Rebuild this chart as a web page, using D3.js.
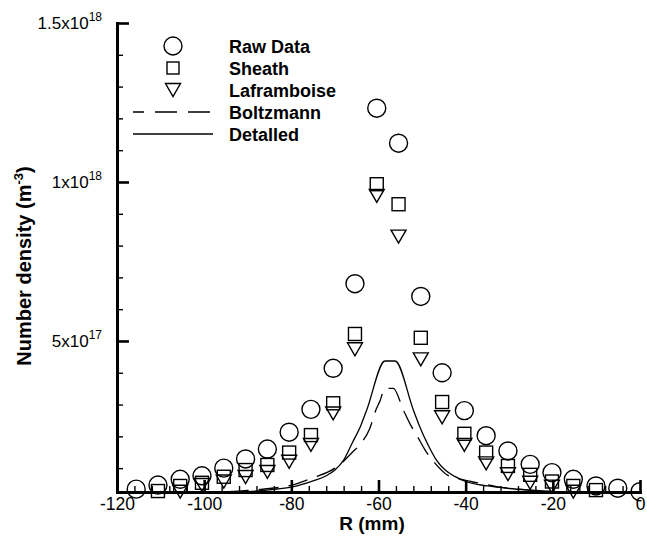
<!DOCTYPE html>
<html>
<head>
<meta charset="utf-8">
<script src="https://cdn.jsdelivr.net/npm/d3@7"></script>
<style>
  html, body { margin: 0; padding: 0; background: #fff; }
  svg { display: block; font-family: "Liberation Sans", Arial, Helvetica, sans-serif; }
</style>
</head>
<body>
<svg id="chart" width="647" height="537"></svg>
<script>
// ---------------- data ----------------
const E = 1e18;
// x positions of the measurement columns (mm)
const rawX = [-115.6,-110.6,-105.5,-100.5,-95.5,-90.5,-85.5,-80.5,-75.5,-70.4,-65.4,-60.4,-55.4,-50.3,-45.4,-40.3,-35.3,-30.3,-25.2,-20.2,-15.3,-10.1,-5.1,0];
const rawData = [0.034,0.047,0.065,0.076,0.10,0.129,0.16,0.213,0.285,0.414,0.68,1.232,1.122,0.64,0.40,0.281,0.202,0.154,0.112,0.086,0.065,0.044,0.037,0.026];

const sheathX = rawX.slice(1, 22);
const sheath = [0.028,0.044,0.054,0.073,0.094,0.11,0.149,0.204,0.304,0.522,0.993,0.93,0.51,0.308,0.208,0.149,0.107,0.079,0.058,0.044,0.031];

const lafX = rawX.slice(2, 21);
const laframboise = [0.026,0.047,0.058,0.072,0.088,0.12,0.173,0.272,0.474,0.956,0.828,0.442,0.26,0.173,0.115,0.081,0.054,0.042,0.026];

const boltzX = [-115,-100,-90,-85,-80,-75,-70,-68,-66,-64,-62,-60.6,-59.7,-58.5,-56.6,-54.3,-52.8,-51,-49.3,-47,-44.3,-41.5,-38.8,-35,-32.9,-28.3,-25,-20,-10,0];
const boltzmann = [0.015,0.022,0.03,0.036,0.046,0.07,0.1,0.122,0.15,0.178,0.225,0.283,0.31,0.351,0.351,0.283,0.24,0.198,0.157,0.115,0.079,0.066,0.058,0.048,0.042,0.034,0.03,0.026,0.021,0.018];

const detX = [-115,-105,-95,-90,-85,-80,-75,-72,-70,-68,-66,-64,-62.7,-58.5,-56.2,-52,-50.7,-48.7,-46.7,-44.7,-42.5,-40,-35,-30,-25,-20,-10,0];
const detailed = [0.012,0.016,0.022,0.026,0.032,0.04,0.06,0.076,0.094,0.125,0.18,0.236,0.283,0.437,0.437,0.283,0.236,0.175,0.125,0.094,0.074,0.058,0.044,0.036,0.031,0.027,0.021,0.017];

const xMajor = [-120,-100,-80,-60,-40,-20,0];
const xTickLabels = ["-120","-100","-80","-60","-40","-20","0"];
const yMajor = [0.5e18, 1e18, 1.5e18];
const yTickMantissa = ["5x10","1x10","1.5x10"];
const yTickExponent = ["17","18","18"];
const legendLabels = ["Raw Data","Sheath","Laframboise","Boltzmann","Detalled"];

// ---------------- layout ----------------
const svg = d3.select("#chart");
const x = d3.scaleLinear().domain([-120, 0]).range([117, 640]);
const y = d3.scaleLinear().domain([0.025e18, 1.5e18]).range([492, 23]);

const xMinor = d3.range(-116, 0, 4).filter(v => !xMajor.includes(v));
const yMinor = d3.range(1, 15).map(k => k * 1e17).filter(v => !yMajor.some(m => Math.abs(m - v) < 1));

const defs = svg.append("defs");
defs.append("clipPath").attr("id", "clipLines").append("rect")
  .attr("x", 117).attr("y", 22).attr("width", 524).attr("height", 470);
defs.append("clipPath").attr("id", "clipMarks").append("rect")
  .attr("x", 0).attr("y", 0).attr("width", 641.5).attr("height", 537);

// ---------------- lines ----------------
const line = d3.line().x(d => x(d[0])).y(d => y(d[1] * E)).curve(d3.curveMonotoneX);
const gl = svg.append("g").attr("clip-path", "url(#clipLines)");
gl.append("path").datum(boltzX.map((v, i) => [v, boltzmann[i]]))
  .attr("d", line).attr("fill", "none").attr("stroke", "#000")
  .attr("stroke-width", 1.3).attr("stroke-dasharray", "20,10");
gl.append("path").datum(detX.map((v, i) => [v, detailed[i]]))
  .attr("d", line).attr("fill", "none").attr("stroke", "#000")
  .attr("stroke-width", 1.3);

// ---------------- markers ----------------
const circleR = 9, sq = 13, triW = 15, triH = 13;
const triPath = `M${-triW/2},${-triH/2}L${triW/2},${-triH/2}L0,${triH/2}Z`;
const gm = svg.append("g").attr("clip-path", "url(#clipMarks)")
  .attr("fill", "none").attr("stroke", "#000").attr("stroke-width", 1.4);

gm.selectAll("circle.raw").data(rawX.map((v, i) => [v, rawData[i]])).join("circle")
  .attr("class", "raw").attr("cx", d => x(d[0])).attr("cy", d => y(d[1] * E)).attr("r", circleR);
gm.selectAll("rect.sh").data(sheathX.map((v, i) => [v, sheath[i]])).join("rect")
  .attr("class", "sh").attr("x", d => x(d[0]) - sq / 2).attr("y", d => y(d[1] * E) - sq / 2)
  .attr("width", sq).attr("height", sq);
gm.selectAll("path.laf").data(lafX.map((v, i) => [v, laframboise[i]])).join("path")
  .attr("class", "laf").attr("d", triPath)
  .attr("transform", d => `translate(${x(d[0])},${y(d[1] * E)})`);

// ---------------- axes ----------------
const fontTick = 17.5;
const gx = svg.append("g").attr("transform", "translate(0,492)");
gx.call(d3.axisBottom(x).tickValues(xMajor).tickSizeInner(-12).tickSizeOuter(0).tickPadding(6)
  .tickFormat((d, i) => xTickLabels[i]));
gx.select(".domain").attr("stroke-width", 3).attr("stroke-linecap", "square");
gx.selectAll(".tick line").attr("stroke-width", 2.6);
gx.selectAll(".tick text").attr("font-size", fontTick).attr("fill", "#000")
  .attr("font-family", "Liberation Sans, Arial, sans-serif");
const gxm = svg.append("g").attr("transform", "translate(0,492)");
gxm.call(d3.axisBottom(x).tickValues(xMinor).tickSizeInner(-6).tickSizeOuter(0).tickFormat(""));
gxm.select(".domain").remove();
gxm.selectAll(".tick line").attr("stroke-width", 1.4);

const gy = svg.append("g").attr("transform", "translate(117,0)");
gy.call(d3.axisLeft(y).tickValues(yMajor).tickSizeInner(-12).tickSizeOuter(0).tickPadding(15)
  .tickFormat(() => ""));
gy.select(".domain").attr("stroke-width", 3).attr("stroke-linecap", "square");
gy.selectAll(".tick line").attr("stroke-width", 2.6);
gy.selectAll(".tick text").each(function(d, i) {
  const t = d3.select(this).attr("font-size", 17).attr("fill", "#000")
    .attr("font-family", "Liberation Sans, Arial, sans-serif");
  t.text(null);
  t.append("tspan").text(yTickMantissa[i]);
  t.append("tspan").attr("font-size", 12).attr("dy", -8).text(yTickExponent[i]);
});
const gym = svg.append("g").attr("transform", "translate(117,0)");
gym.call(d3.axisLeft(y).tickValues(yMinor).tickSizeInner(-6).tickSizeOuter(0).tickFormat(""));
gym.select(".domain").remove();
gym.selectAll(".tick line").attr("stroke-width", 1.4);

// ---------------- titles ----------------
svg.append("text").attr("x", 372).attr("y", 530).attr("text-anchor", "middle")
  .attr("font-size", 19).attr("font-weight", "bold").text("R (mm)");
const yt = svg.append("text").attr("transform", "translate(31,266) rotate(-90)")
  .attr("text-anchor", "middle").attr("font-size", 20).attr("font-weight", "bold");
yt.append("tspan").text("Number density (m");
yt.append("tspan").attr("font-size", 13).attr("dy", -8).text("-3");
yt.append("tspan").attr("dy", 8).text(")");

// ---------------- legend ----------------
const legY0 = 46, legStep = 22, legSymX = 173, legTextX = 229;
const lg = svg.append("g");
lg.append("circle").attr("cx", legSymX).attr("cy", legY0).attr("r", circleR)
  .attr("fill", "none").attr("stroke", "#000").attr("stroke-width", 1.4);
lg.append("rect").attr("x", legSymX - 6).attr("y", legY0 + legStep - 6).attr("width", 12).attr("height", 12)
  .attr("fill", "none").attr("stroke", "#000").attr("stroke-width", 1.4);
lg.append("path").attr("d", triPath).attr("transform", `translate(${legSymX},${legY0 + 2 * legStep})`)
  .attr("fill", "none").attr("stroke", "#000").attr("stroke-width", 1.4);
lg.append("line").attr("x1", 133).attr("x2", 213).attr("y1", legY0 + 3 * legStep).attr("y2", legY0 + 3 * legStep)
  .attr("stroke", "#000").attr("stroke-width", 1.3).attr("stroke-dasharray", "22,11").attr("stroke-dashoffset", 11);
lg.append("line").attr("x1", 133).attr("x2", 213).attr("y1", legY0 + 4 * legStep).attr("y2", legY0 + 4 * legStep)
  .attr("stroke", "#000").attr("stroke-width", 1.3);
lg.selectAll("text").data(legendLabels).join("text")
  .attr("x", legTextX).attr("y", (d, i) => legY0 + i * legStep + 6.5)
  .attr("font-size", 18).attr("font-weight", "bold").text(d => d);
</script>
</body>
</html>
